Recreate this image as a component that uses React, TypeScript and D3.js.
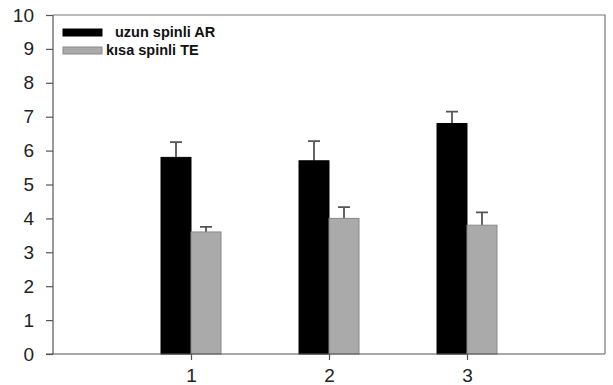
import React, { useEffect, useRef } from 'react';
import * as d3 from 'd3';

const categories = [1, 2, 3];
const seriesNames = ['uzun spinli AR', 'kısa spinli TE'];
const arValues = [5.8, 5.7, 6.8];
const arErrors = [0.45, 0.58, 0.35];
const teValues = [3.6, 4.0, 3.8];
const teErrors = [0.15, 0.33, 0.38];
const yTicks = [0, 1, 2, 3, 4, 5, 6, 7, 8, 9, 10];

const App = () => {
    const svgRef = useRef<SVGSVGElement>(null);

    useEffect(() => {
        const width = 613;
        const height = 385;
        const left = 53, right = 605, top = 15, bottom = 354;
        const svg = d3.select(svgRef.current)
            .attr('width', width)
            .attr('height', height);

        svg.selectAll('*').remove();

        const axisColor = '#555';
        const x = d3.scaleLinear().domain([0, 4]).range([left, right]);
        const y = d3.scaleLinear().domain([0, 10]).range([bottom, top]);
        const barW = 30;

        // frame (top + right)
        svg.append('path')
            .attr('d', `M${left},${top}H${right}V${bottom}`)
            .attr('fill', 'none')
            .attr('stroke', '#777')
            .attr('stroke-width', 1.2);

        const series = [
            { vals: arValues, errs: arErrors, fill: '#000', stroke: '#000', off: -barW },
            { vals: teValues, errs: teErrors, fill: '#aaa', stroke: '#888', off: 0 },
        ];

        series.forEach(s => {
            const g = svg.append('g');
            // error bars first, bar drawn over stem base
            g.selectAll('.err')
                .data(categories)
                .join('path')
                .attr('d', (c, i) => {
                    const cx = x(c) + s.off + barW / 2;
                    const yt = y(s.vals[i] + s.errs[i]);
                    return `M${cx},${y(s.vals[i])}V${yt}M${cx - 6},${yt}H${cx + 6}`;
                })
                .attr('stroke', '#555')
                .attr('stroke-width', 1.8)
                .attr('fill', 'none');
            g.selectAll('.bar')
                .data(categories)
                .join('rect')
                .attr('x', c => x(c) + s.off)
                .attr('y', (c, i) => y(s.vals[i]))
                .attr('width', barW)
                .attr('height', (c, i) => bottom - y(s.vals[i]))
                .attr('fill', s.fill)
                .attr('stroke', s.stroke)
                .attr('stroke-width', 1);
        });

        const yAxis = svg.append('g')
            .attr('transform', `translate(${left},0)`)
            .call(d3.axisLeft(y).tickValues(yTicks).tickSize(7).tickPadding(12).tickFormat(d3.format('d')));
        yAxis.selectAll('line, path').attr('stroke', axisColor).attr('stroke-width', 1.2);
        yAxis.select('.domain').attr('d', `M0,${bottom}V${top}`);
        yAxis.selectAll('text')
            .attr('fill', '#222')
            .style('font-family', 'Liberation Sans, Arial, sans-serif')
            .style('font-size', '19px');

        const xAxis = svg.append('g')
            .attr('transform', `translate(0,${bottom})`)
            .call(d3.axisBottom(x).tickValues(categories).tickSize(6).tickPadding(9).tickFormat(d3.format('d')));
        xAxis.selectAll('line, path').attr('stroke', axisColor).attr('stroke-width', 1.2);
        xAxis.select('.domain').attr('d', `M${left - 7},0H${right}`);
        xAxis.selectAll('text')
            .attr('fill', '#222')
            .style('font-family', 'Liberation Sans, Arial, sans-serif')
            .style('font-size', '19px');

        // legend
        const legend = svg.append('g');
        const swatches = [
            { fill: '#000', stroke: '#000', y: 29, tx: 115 },
            { fill: '#aaa', stroke: '#888', y: 47, tx: 106 },
        ];
        swatches.forEach((s, i) => {
            legend.append('rect')
                .attr('x', 63).attr('y', s.y)
                .attr('width', 39).attr('height', 7)
                .attr('fill', s.fill).attr('stroke', s.stroke);
            legend.append('text')
                .attr('x', s.tx).attr('y', s.y + 8)
                .style('font-family', 'Liberation Sans, Arial, sans-serif')
                .style('font-size', '14.5px')
                .style('font-weight', 'bold')
                .attr('fill', '#111')
                .text(seriesNames[i]);
        });
    }, []);

    return <svg ref={svgRef} style={{ position: 'absolute', left: 0, top: 0 }}></svg>;
};

export default App;
